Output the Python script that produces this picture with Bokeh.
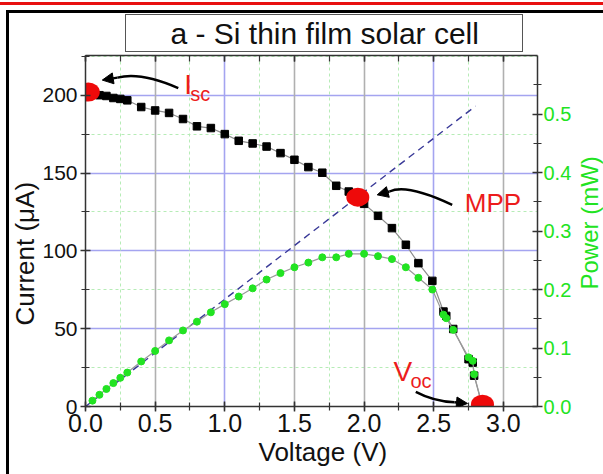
import math
from bokeh.plotting import figure
from bokeh.models import (Range1d, LinearAxis, Label, Arrow, NormalHead, Title,
                          Grid, FixedTicker, SingleIntervalTicker, NumeralTickFormatter,
                          CustomJSTickFormatter, ColumnDataSource)
from bokeh.embed import file_html
from bokeh.resources import INLINE

FONT = "Liberation Sans"
RED = "#ec1c1c"
GREEN = "#22e322"

# ---- data ----
voltage = [0.00, 0.05, 0.10, 0.15, 0.20, 0.25, 0.30, 0.40, 0.50, 0.60, 0.70, 0.80, 0.90,
           1.00, 1.10, 1.20, 1.30, 1.40, 1.50, 1.60, 1.70, 1.80, 1.89, 2.00, 2.10, 2.20,
           2.30, 2.39, 2.49, 2.57, 2.59, 2.64, 2.75, 2.78, 2.79, 2.85]
current = [202.0, 201.0, 200.0, 199.5, 198.2, 197.6, 196.7, 192.4, 190.2, 188.6, 184.7,
           180.0, 178.9, 175.0, 170.7, 169.0, 167.0, 162.8, 158.5, 153.8, 150.2, 141.8,
           138.1, 130.2, 122.5, 114.6, 103.9, 92.1, 80.7, 61.0, 58.2, 49.8, 30.4, 28.2,
           19.8, 0.0]
power_voltage = [0.05, 0.10, 0.15, 0.20, 0.25, 0.30, 0.40, 0.50, 0.60, 0.70, 0.80, 0.90,
                 1.00, 1.10, 1.20, 1.30, 1.40, 1.50, 1.60, 1.70, 1.80, 1.89, 2.00, 2.10,
                 2.20, 2.30, 2.39, 2.49, 2.57, 2.59, 2.64, 2.75, 2.78, 2.79, 2.85]
power = [0.010, 0.020, 0.030, 0.040, 0.049, 0.058, 0.077, 0.095, 0.113, 0.130, 0.145,
         0.161, 0.175, 0.188, 0.202, 0.217, 0.228, 0.238, 0.246, 0.255, 0.255, 0.261,
         0.261, 0.257, 0.252, 0.238, 0.220, 0.200, 0.157, 0.151, 0.131, 0.084, 0.078,
         0.055, 0.0]
load_voltage = [0.0, 2.80]
load_current = [0.0, 193.0]
ISC_V, ISC_I = 0.02, 202.0
MPP_V, MPP_I = 1.955, 134.5
VOC_V, VOC_I = 2.85, 1.5

X_MAX, I_MAX, P_MAX = 3.245, 225.5, 0.6
title_text = "a - Si thin film solar cell"
x_label = "Voltage (V)"
y_label = "Current (\u03bcA)"
y2_label = "Power (mW)"

W, H = 603, 474
BL, BR, BT, BB = 85, 66, 55, 68
FW, FH = W - BL - BR, H - BT - BB

# slide decoration + title box drawn behind the (transparent) canvas border
bands = [  # (color, left, top, width, height)
    ("#e81010", 0, 2, W, 3),
    ("#000000", 6, 10, W, 3),
    ("#000000", 6, 10, 3, H),
    ("#555555", 125, 14, 398, 1),
    ("#555555", 125, 51, 398, 1),
    ("#555555", 125, 14, 1, 38),
    ("#555555", 522, 14, 1, 38),
]
css = {
    "background-color": "white",
    "background-image": ", ".join(f"linear-gradient({c},{c})" for c, *_ in bands),
    "background-size": ", ".join(f"{w}px {h}px" for _, _, _, w, h in bands),
    "background-position": ", ".join(f"{l}px {t}px" for _, l, t, _, _ in bands),
    "background-repeat": "no-repeat",
}

p = figure(width=W, height=H, x_range=Range1d(0, X_MAX), y_range=Range1d(0, I_MAX),
           output_backend="svg", toolbar_location=None,
           min_border_left=BL, min_border_right=BR, min_border_top=BT, min_border_bottom=BB,
           background_fill_color="white", border_fill_color=None, styles=css)
p.outline_line_color = None
p.extra_y_ranges = {"power": Range1d(0, P_MAX)}

xa = p.below[0]
ya = p.left[0]
right = LinearAxis(y_range_name="power")
top = LinearAxis()
p.add_layout(right, "right")
p.add_layout(top, "above")

xa.ticker = SingleIntervalTicker(interval=0.5, num_minor_ticks=2)
top.ticker = SingleIntervalTicker(interval=0.5, num_minor_ticks=2)
ya.ticker = SingleIntervalTicker(interval=50, num_minor_ticks=2)
right.ticker = SingleIntervalTicker(interval=0.1, num_minor_ticks=2)
xa.formatter = NumeralTickFormatter(format="0.0")
top.formatter = NumeralTickFormatter(format="0.0")
right.formatter = NumeralTickFormatter(format="0.0")
ya.formatter = NumeralTickFormatter(format="0")

for ax in (xa, ya, right, top):
    ax.axis_line_color = "#333333"
    ax.axis_line_width = 1.5
    ax.major_tick_line_color = "#333333"
    ax.major_tick_line_width = 1.5
    ax.minor_tick_line_color = "#333333"
    ax.minor_tick_line_width = 1.2
    ax.major_tick_in = 5
    ax.major_tick_out = 5
    ax.minor_tick_in = 4
    ax.minor_tick_out = 4
    ax.major_label_text_font = FONT
    ax.axis_label_text_font = FONT
    ax.axis_label_text_font_style = "normal"
    ax.major_label_standoff = 3
    ax.axis_label_standoff = 1

top.major_tick_out = 0
top.minor_tick_out = 0
top.major_tick_in = 6
top.minor_tick_in = 6
top.major_label_text_font_size = "1px"
top.major_label_text_color = None
top.major_label_standoff = 0

xa.major_label_text_font_size = "25px"
xa.major_label_text_color = "#111111"
xa.major_label_standoff = 2
ya.major_label_text_font_size = "21px"
ya.major_label_text_color = "#111111"
right.major_label_text_font_size = "20px"
right.major_label_text_color = GREEN
right.major_label_standoff = 1

# power axis title: one rotated label (reads bottom-to-top) on an outer axis;
# the zero-height text block keeps it clear of the tick numbers
p_title_axis = LinearAxis(y_range_name="power", ticker=FixedTicker(ticks=[0.2]),
                          formatter=CustomJSTickFormatter(args=dict(label=y2_label),
                                                          code="return label + '\\n'"),
                          major_label_orientation=math.pi / 2,
                          axis_line_color=None, major_tick_line_color=None,
                          minor_tick_line_color=None, major_tick_out=0, major_tick_in=0,
                          major_label_standoff=1, major_label_text_font=FONT,
                          major_label_text_line_height=-1.0,
                          major_label_text_font_size="24px", major_label_text_color=GREEN)
p.add_layout(p_title_axis, "right")

# title text (box drawn by the page background)
p.title = Title(text=title_text, align="left", offset=85, text_font=FONT,
                text_font_size="30px", text_font_style="normal", text_color="#111111",
                standoff=11)

# axis titles placed as side titles for exact positioning
p.add_layout(Title(text=x_label, align="left", offset=173, text_font=FONT,
                   text_font_size="26px", text_font_style="normal", text_color="#111111",
                   standoff=0), "below")
p.add_layout(Title(text=y_label, align="left", offset=81, text_font=FONT,
                   text_font_size="26px", text_font_style="normal", text_color="#111111",
                   standoff=0), "left")

# grids
p.xgrid.visible = False
gray_grid = Grid(dimension=0, ticker=FixedTicker(ticks=[0.5, 1.5, 2.0, 3.0],
                 minor_ticks=[0.25, 0.75, 1.25, 1.75, 2.25, 2.75]),
                 grid_line_color="#b0b0b0", grid_line_width=1.6,
                 minor_grid_line_color="#b6ecb6", minor_grid_line_dash="3 3",
                 minor_grid_line_width=1)
blue_vgrid = Grid(dimension=0, ticker=FixedTicker(ticks=[1.0, 2.5]),
                  grid_line_color="#a4a4f0", grid_line_width=1.6)
p.add_layout(gray_grid)
p.add_layout(blue_vgrid)
p.ygrid.grid_line_color = "#a4a4f0"
p.ygrid.grid_line_width = 1.6
p.ygrid.minor_grid_line_color = "#b6ecb6"
p.ygrid.minor_grid_line_dash = "3 3"
p.ygrid.minor_grid_line_width = 1

# load line
p.line(load_voltage, load_current, line_color="#3a3a98", line_width=1.4, line_dash="7 5")

# I-V curve
p.line(voltage, current, line_color="#8c8c8c", line_width=1.2)
p.scatter(voltage, current, marker="square", size=7.5, fill_color="black", line_color="black")

# power curve
p.line(power_voltage, power, y_range_name="power", line_color="#9a9a9a", line_width=1.2)
p.scatter(power_voltage, power, y_range_name="power", marker="circle", size=7,
          fill_color=GREEN, line_color=GREEN)

# key points
p.ellipse([ISC_V, MPP_V, VOC_V], [ISC_I, MPP_I, VOC_I], width=23, height=19,
          width_units="screen", height_units="screen", fill_color="#ee0a0a", line_color=None)

VX = X_MAX / FW
VY = I_MAX / FH


def off(x, y, dx, dy):
    return x + dx * VX, y - dy * VY


def bez(a, c, b, t):
    return ((1 - t) ** 2 * a[0] + 2 * (1 - t) * t * c[0] + t ** 2 * b[0],
            (1 - t) ** 2 * a[1] + 2 * (1 - t) * t * c[1] + t ** 2 * b[1])


arrows = [
    ((ISC_V, ISC_I), (90, -4), (52, -20.6), (14, -12)),
    ((MPP_V, MPP_I), (94.4, 7.7), (48.5, -13.9), (19.4, -2.3)),
    ((VOC_V, VOC_I), (-66.7, -12.3), (-49.1, -2.9), (-15, -0.7)),
]
src = dict(x0=[], y0=[], x1=[], y1=[], cx=[], cy=[])
for (ax_, ay_), tail, ctrl, tip in arrows:
    x0, y0 = off(ax_, ay_, *tail)
    cx, cy = off(ax_, ay_, *ctrl)
    hs = bez(tail, ctrl, tip, 0.8)
    hx, hy = off(ax_, ay_, *hs)
    x1, y1 = off(ax_, ay_, *tip)
    src["x0"].append(x0); src["y0"].append(y0)
    src["x1"].append(hx); src["y1"].append(hy)
    src["cx"].append(cx); src["cy"].append(cy)
    p.add_layout(Arrow(end=NormalHead(size=11, fill_color="black", line_color="black"),
                       x_start=hx, y_start=hy, x_end=x1, y_end=y1,
                       line_color="black", line_width=2.4))
p.quadratic(x0="x0", y0="y0", x1="x1", y1="y1", cx="cx", cy="cy",
            source=ColumnDataSource(src), line_color="black", line_width=2.4)


def lab(x, y, dx, dy, text, size):
    p.add_layout(Label(x=x, y=y, x_offset=dx, y_offset=-dy, text=text, text_font=FONT,
                       text_font_size=size, text_color=RED, text_baseline="alphabetic",
                       text_align="left"))


LIFT = 9
lab(ISC_V, ISC_I, 96, 1 - LIFT, "I", "28px")
lab(ISC_V, ISC_I, 102, 11 - LIFT, "sc", "20px")
lab(MPP_V, MPP_I, 107, 15 - LIFT, "MPP", "26px")
lab(VOC_V, VOC_I, -89, -24 - LIFT, "V", "28px")
lab(VOC_V, VOC_I, -72, -14 - LIFT, "oc", "20px")

open("out.html", "w").write(file_html(p, INLINE))
